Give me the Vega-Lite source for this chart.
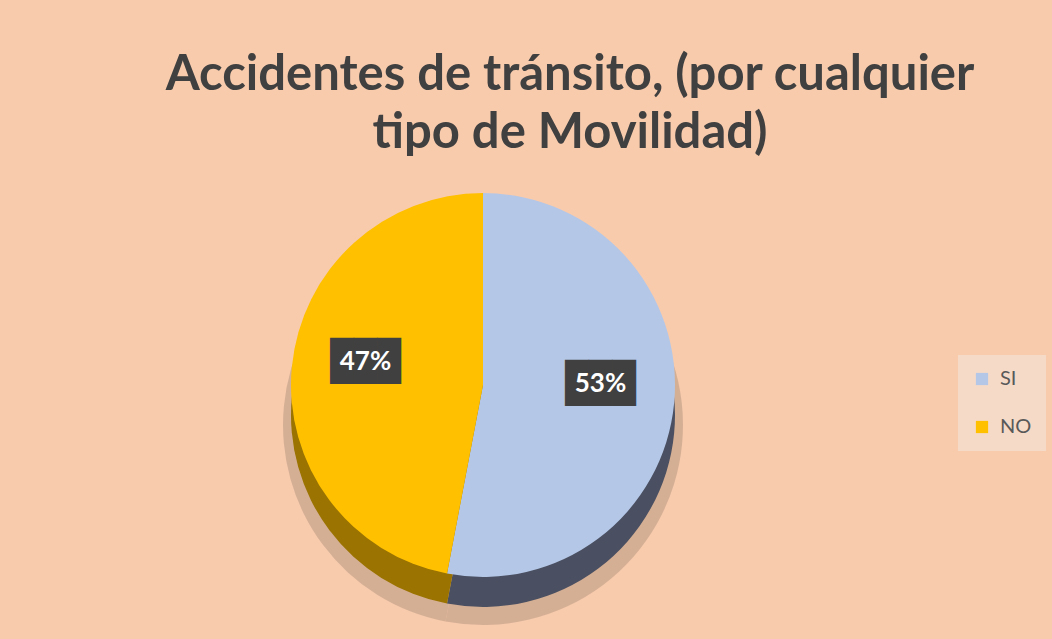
{
  "$schema": "https://vega.github.io/schema/vega-lite/v6.json",
  "autosize": "none",
  "width": 966,
  "height": 450,
  "padding": {"left": 0, "top": 160, "right": 86, "bottom": 29},
  "background": "#F8CBAD",
  "config": {"view": {"stroke": null}},
  "title": {
    "text": ["Accidentes de tránsito, (por cualquier", "tipo de Movilidad)"],
    "font": "Lato",
    "fontSize": 49,
    "fontWeight": "bold",
    "color": "#404040",
    "lineHeight": 58,
    "anchor": "middle",
    "dx": 87,
    "offset": 2
  },
  "data": {
    "values": [
      {"respuesta": "SI", "proporcion": 0.53, "orden": 1},
      {"respuesta": "NO", "proporcion": 0.47, "orden": 2}
    ]
  },
  "resolve": {"scale": {"color": "independent"}, "legend": {"color": "independent"}},
  "layer": [
    {
      "mark": {"type": "arc", "outerRadius": 200, "yOffset": 40, "color": "#C9A58C", "opacity": 0.75},
      "encoding": {
        "theta": {"field": "proporcion", "type": "quantitative", "stack": true},
        "order": {"field": "orden", "type": "ordinal"}
      }
    },
    {
      "mark": {"type": "arc", "outerRadius": 192, "yOffset": 30},
      "encoding": {
        "theta": {"field": "proporcion", "type": "quantitative", "stack": true},
        "order": {"field": "orden", "type": "ordinal"},
        "color": {
          "field": "respuesta",
          "type": "nominal",
          "scale": {"domain": ["SI", "NO"], "range": ["#4A5061", "#9A7300"]},
          "legend": null
        }
      }
    },
    {
      "mark": {"type": "arc", "outerRadius": 192},
      "encoding": {
        "theta": {"field": "proporcion", "type": "quantitative", "stack": true},
        "order": {"field": "orden", "type": "ordinal"},
        "color": {
          "field": "respuesta",
          "type": "nominal",
          "scale": {"domain": ["SI", "NO"], "range": ["#B4C7E7", "#FFC000"]},
          "legend": {
            "title": null,
            "orient": "none",
            "legendX": 958,
            "legendY": 195,
            "symbolType": "square",
            "symbolSize": 150,
            "symbolStrokeWidth": 0,
            "labelFont": "Lato",
            "labelFontSize": 20,
            "labelColor": "#595959",
            "labelOffset": 8,
            "rowPadding": 28,
            "padding": 14,
            "fillColor": "#F6DAC8"
          }
        }
      }
    },
    {
      "mark": {"type": "text", "radius": 118, "font": "DejaVu Sans Mono", "fontSize": 39, "color": "#404040", "dy": -12},
      "encoding": {
        "theta": {"field": "proporcion", "type": "quantitative", "stack": true},
        "order": {"field": "orden", "type": "ordinal"},
        "text": {"value": "███"}
      }
    },
    {
      "mark": {"type": "text", "radius": 118, "font": "Lato", "fontSize": 26, "fontWeight": "bold", "color": "#FFFFFF", "dy": -12},
      "encoding": {
        "theta": {"field": "proporcion", "type": "quantitative", "stack": true},
        "order": {"field": "orden", "type": "ordinal"},
        "text": {"field": "proporcion", "type": "quantitative", "format": ".0%"}
      }
    }
  ]
}
